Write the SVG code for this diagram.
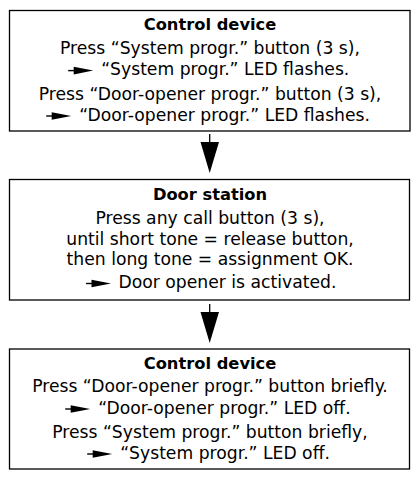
<svg xmlns="http://www.w3.org/2000/svg" xmlns:xlink="http://www.w3.org/1999/xlink" width="420" height="486" viewBox="0 0 420 486">
<style>
.box{fill:#fff;stroke:#000;stroke-width:1.3}
.t{font-family:"DejaVu Sans","Liberation Sans",sans-serif;font-size:17.2px;fill:#000}
.c{text-anchor:middle}
.h{font-weight:bold;font-size:16.3px}
.conn{stroke:#000;stroke-width:1.3;fill:none}
.head{fill:#000}
</style>
<defs>
<g id="sa">
<line x1="0" y1="0" x2="8" y2="0" stroke="#000" stroke-width="1.4"/>
<polygon points="5.5,-3.8 25,0 5.5,3.8" fill="#000"/>
</g>
</defs>
<rect width="420" height="486" fill="#fff"/>
<g id="node1">
<rect class="box" x="9.5" y="10.5" width="400.5" height="120.5"/>
<text class="t c h" x="210" y="30">Control device</text>
<text class="t c" x="210" y="53.5">Press “System progr.” button (3 s),</text>
<use xlink:href="#sa" href="#sa" transform="translate(68.2,70.6)"/>
<text class="t" x="101.2" y="75">“System progr.” LED flashes.</text>
<text class="t c" x="210" y="99.5">Press “Door-opener progr.” button (3 s),</text>
<use xlink:href="#sa" href="#sa" transform="translate(46.2,116)"/>
<text class="t" x="79.2" y="120.5">“Door-opener progr.” LED flashes.</text>
</g>
<g id="node2">
<rect class="box" x="9.5" y="179.5" width="400" height="120.5"/>
<text class="t c h" x="210" y="199.5">Door station</text>
<text class="t c" x="210" y="223.5">Press any call button (3 s),</text>
<text class="t c" x="210" y="244.5">until short tone = release button,</text>
<text class="t c" x="210" y="265">then long tone = assignment OK.</text>
<use xlink:href="#sa" href="#sa" transform="translate(86,283.5)"/>
<text class="t" x="118.5" y="288">Door opener is activated.</text>
</g>
<g id="node3">
<rect class="box" x="9.5" y="349" width="400" height="120"/>
<text class="t c h" x="210" y="368.5">Control device</text>
<text class="t c" x="210" y="392">Press “Door-opener progr.” button briefly.</text>
<use xlink:href="#sa" href="#sa" transform="translate(65.2,409)"/>
<text class="t" x="98.2" y="413.5">“Door-opener progr.” LED off.</text>
<text class="t c" x="210" y="437.5">Press “System progr.” button briefly,</text>
<use xlink:href="#sa" href="#sa" transform="translate(87.2,454)"/>
<text class="t" x="120.2" y="458.5">“System progr.” LED off.</text>
</g>
<g id="connectors">
<line class="conn" x1="209.7" y1="134" x2="209.7" y2="143"/>
<polygon class="head" points="200.5,142 219,142 209.7,173"/>
<line class="conn" x1="209.7" y1="304" x2="209.7" y2="313"/>
<polygon class="head" points="200.5,312 219,312 209.7,343"/>
</g>
</svg>
